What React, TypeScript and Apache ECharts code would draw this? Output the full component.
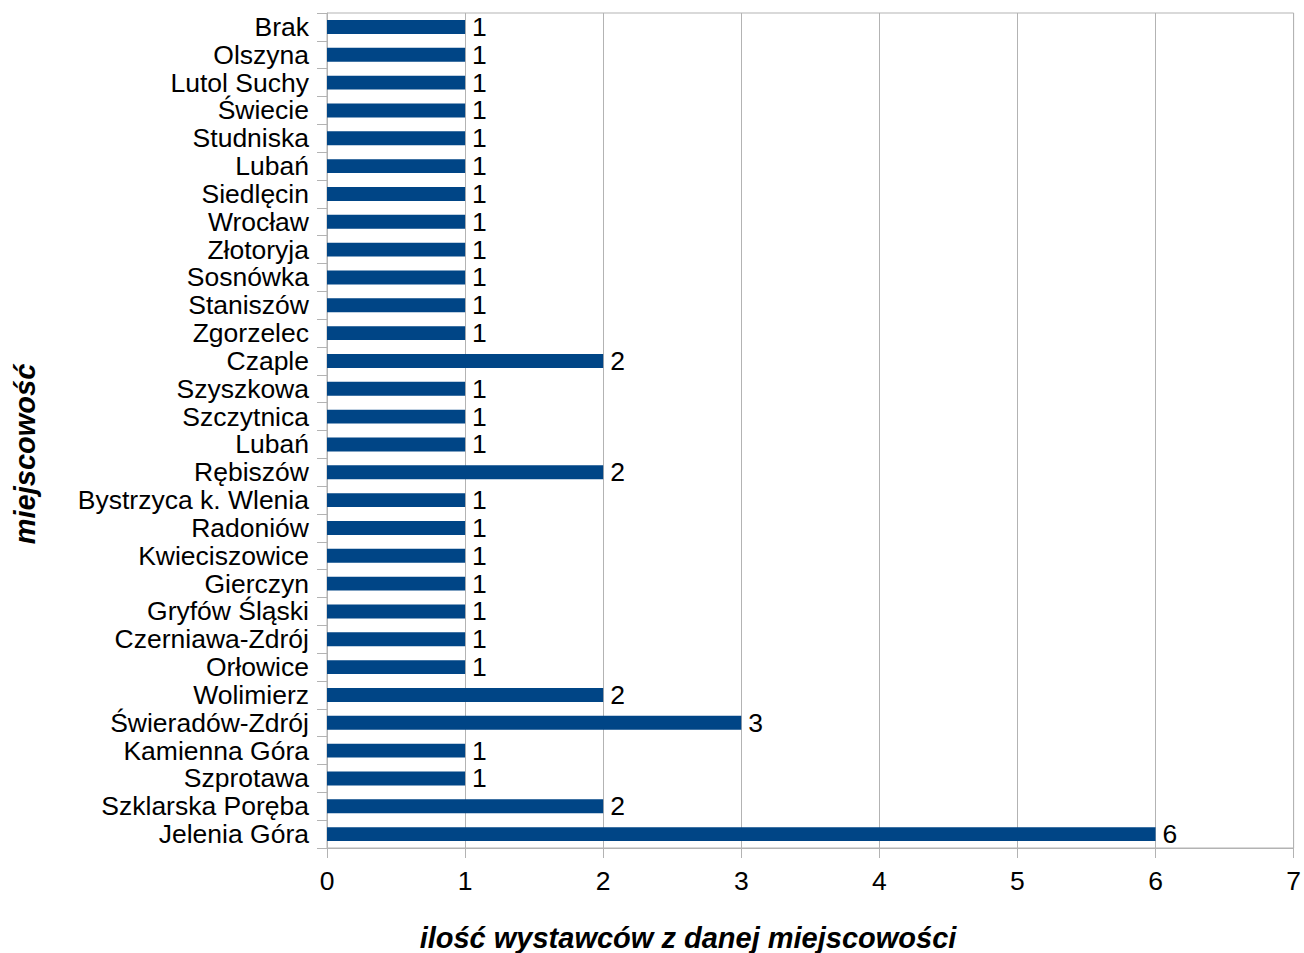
import React, { useEffect, useRef } from "react";
import * as echarts from "echarts";

// categories listed top to bottom
const categories: string[] = [
  "Brak",
  "Olszyna",
  "Lutol Suchy",
  "Świecie",
  "Studniska",
  "Lubań",
  "Siedlęcin",
  "Wrocław",
  "Złotoryja",
  "Sosnówka",
  "Staniszów",
  "Zgorzelec",
  "Czaple",
  "Szyszkowa",
  "Szczytnica",
  "Lubań",
  "Rębiszów",
  "Bystrzyca k. Wlenia",
  "Radoniów",
  "Kwieciszowice",
  "Gierczyn",
  "Gryfów Śląski",
  "Czerniawa-Zdrój",
  "Orłowice",
  "Wolimierz",
  "Świeradów-Zdrój",
  "Kamienna Góra",
  "Szprotawa",
  "Szklarska Poręba",
  "Jelenia Góra",
];

const values: number[] = [
  1, 1, 1, 1, 1, 1, 1, 1, 1, 1, 1, 1, 2, 1, 1, 1, 2, 1, 1, 1, 1, 1, 1, 1, 2, 3,
  1, 1, 2, 6,
];

const xAxisTitle = "ilość wystawców z danej miejscowości";
const yAxisTitle = "miejscowość";

export default function App() {
  const ref = useRef<HTMLDivElement>(null);

  useEffect(() => {
    if (!ref.current) return;
    const chart = echarts.init(ref.current, undefined, { renderer: "svg" });
    const font = "Liberation Sans, Arial, sans-serif";
    const fs = 26.5;
    chart.setOption({
      animation: false,
      backgroundColor: "#ffffff",
      textStyle: { fontFamily: font },
      grid: {
        left: 327,
        right: 9,
        top: 13,
        bottom: 105,
        show: true,
        borderColor: "#b3b3b3",
        borderWidth: 1,
        backgroundColor: "transparent",
      },
      xAxis: {
        type: "value",
        min: 0,
        max: 7,
        interval: 1,
        axisLine: { show: true, lineStyle: { color: "#b3b3b3", width: 1 } },
        axisTick: { show: true, length: 10, lineStyle: { color: "#b3b3b3" } },
        splitLine: { show: true, lineStyle: { color: "#b3b3b3", width: 1 } },
        axisLabel: {
          color: "#000000",
          fontSize: fs,
          fontFamily: font,
          margin: 19,
        },
      },
      yAxis: {
        type: "category",
        data: categories,
        inverse: true,
        axisLine: { show: true, lineStyle: { color: "#b3b3b3", width: 1 } },
        axisTick: { show: true, length: 10, lineStyle: { color: "#b3b3b3" } },
        splitLine: { show: false },
        axisLabel: {
          interval: 0,
          color: "#000000",
          fontSize: fs,
          fontFamily: font,
          margin: 18,
        },
      },
      series: [
        {
          type: "bar",
          data: values,
          barWidth: "50%",
          itemStyle: { color: "#004586" },
          label: {
            show: true,
            position: "right",
            distance: 7,
            color: "#000000",
            fontSize: fs,
            fontFamily: font,
          },
        },
      ],
      graphic: [
        {
          type: "text",
          x: 688,
          y: 938,
          style: {
            text: xAxisTitle,
            fill: "#000000",
            font: "italic bold 29px Liberation Sans, Arial, sans-serif",
            textAlign: "center",
            textVerticalAlign: "middle",
          },
        },
        {
          type: "text",
          x: 25,
          y: 454,
          rotation: Math.PI / 2,
          style: {
            text: yAxisTitle,
            fill: "#000000",
            font: "italic bold 29px Liberation Sans, Arial, sans-serif",
            textAlign: "center",
            textVerticalAlign: "middle",
          },
        },
      ],
    });
    return () => chart.dispose();
  }, []);

  return (
    <div
      ref={ref}
      style={{ position: "fixed", left: 0, top: 0, width: 1304, height: 953 }}
    />
  );
}
